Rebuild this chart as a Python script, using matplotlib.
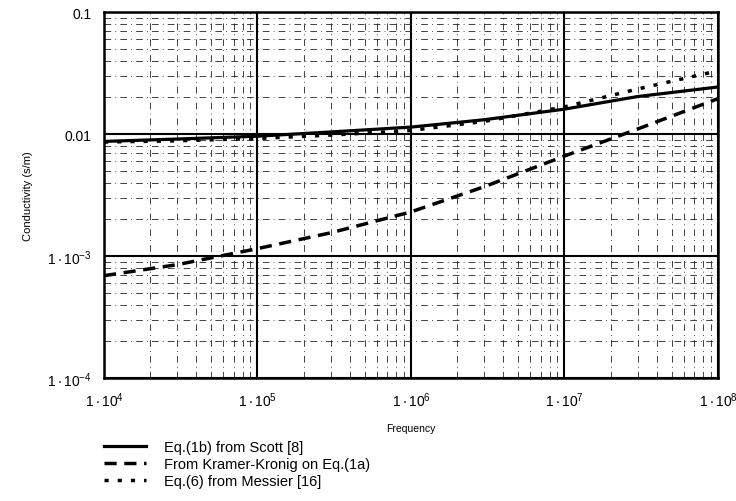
import matplotlib
matplotlib.use("Agg")
import matplotlib.pyplot as plt
from matplotlib.ticker import LogLocator, NullFormatter

plt.rcParams["font.family"] = ["Liberation Sans", "DejaVu Sans"]
plt.rcParams["mathtext.fontset"] = "custom"
plt.rcParams["mathtext.rm"] = "Liberation Sans"
plt.rcParams["mathtext.it"] = "Liberation Sans"

# frequency points (Hz) and conductivity (S/m) for each model
freq = [1e4, 3e4, 1e5, 3e5, 1e6, 3e6, 1e7, 3e7, 1e8]
sigma_scott = [0.0087, 0.0091, 0.0096, 0.0104, 0.0114, 0.0131, 0.0160, 0.0203, 0.0243]
sigma_kk = [6.9e-4, 8.5e-4, 1.15e-3, 1.55e-3, 2.3e-3, 3.7e-3, 6.6e-3, 0.011, 0.0195]
sigma_messier = [0.0086, 0.0088, 0.0092, 0.0098, 0.0107, 0.0127, 0.0167, 0.0234, 0.033]

labels = [
    "Eq.(1b) from Scott [8]",
    "From Kramer-Kronig on Eq.(1a)",
    "Eq.(6) from Messier [16]",
]

x_ticks = [1e4, 1e5, 1e6, 1e7, 1e8]
x_ticklabels = [r"$\mathregular{1\cdot10^{%d}}$" % e for e in (4, 5, 6, 7, 8)]
y_ticks = [1e-4, 1e-3, 1e-2, 1e-1]
y_ticklabels = [r"$\mathregular{1\cdot10^{-4}}$", r"$\mathregular{1\cdot10^{-3}}$", "0.01", "0.1"]

fig = plt.figure(figsize=(7.36, 5.02), dpi=100)
ax = fig.add_axes([0.1413, 0.245, 0.8342, 0.729])

l1, = ax.plot(freq, sigma_scott, color="black", lw=2.3, ls="-")
l2, = ax.plot(freq, sigma_kk, color="black", lw=2.5, ls=(0, (3.5, 2.2)))
l3, = ax.plot(freq, sigma_messier, color="black", lw=2.5, ls=(0, (1.2, 2.6)))

ax.set_xscale("log")
ax.set_yscale("log")
ax.set_xlim(1e4, 1e8)
ax.set_ylim(1e-4, 1e-1)

ax.set_xticks(x_ticks)
ax.set_xticklabels(x_ticklabels)
ax.set_yticks(y_ticks)
ax.set_yticklabels(y_ticklabels)
ax.xaxis.set_minor_locator(LogLocator(base=10, subs=range(2, 10)))
ax.yaxis.set_minor_locator(LogLocator(base=10, subs=range(2, 10)))
ax.xaxis.set_minor_formatter(NullFormatter())
ax.yaxis.set_minor_formatter(NullFormatter())
ax.tick_params(which="both", length=0, labelsize=10, pad=9)

ax.grid(which="major", color="black", lw=1.5, ls="-")
ax.grid(which="minor", color="#222222", lw=0.6, ls=(0, (8, 5, 1, 5)))
ax.set_axisbelow(True)
for sp in ax.spines.values():
    sp.set_linewidth(1.8)

ax.set_xlabel("Frequency", fontsize=7.5, labelpad=10)
ax.set_ylabel("Conductivity (s/m)", fontsize=8, labelpad=10)

fig.legend(
    [l1, l2, l3], labels,
    loc="upper left", bbox_to_anchor=(0.133, 0.133),
    frameon=False, fontsize=10.5, handlelength=2.9,
    handletextpad=1.2, labelspacing=0.22, borderaxespad=0,
)

fig.savefig("out.png", dpi=100)
